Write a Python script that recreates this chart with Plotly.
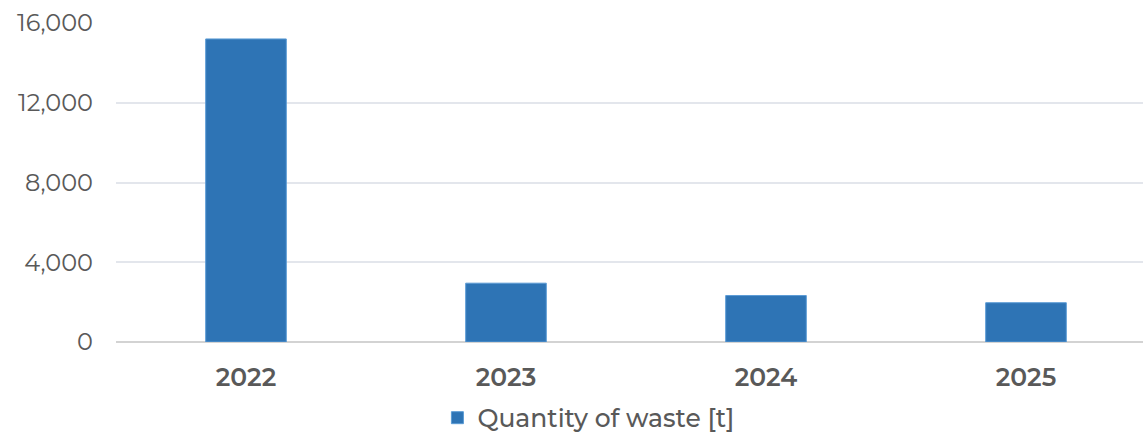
import plotly.graph_objects as go

years = ["2022", "2023", "2024", "2025"]
waste = [15200, 2950, 2330, 1970]
y_ticks = [0, 4000, 8000, 12000, 16000]
y_labels = ["0", "4,000", "8,000", "12,000", "16,000"]

fig = go.Figure()
fig.add_trace(go.Bar(
    x=years, y=waste, name="Quantity of waste [t]",
    marker=dict(color="#2E74B5", line=dict(color="#5B9BD5", width=1)),
    width=0.31,
))

fig.update_layout(
    width=1145, height=433,
    margin=dict(l=116, r=2, t=23, b=91, autoexpand=False),
    paper_bgcolor="white", plot_bgcolor="white",
    font=dict(family="Montserrat, 'Open Sans', Lato, sans-serif", color="#595959", size=24),
    showlegend=True,
    legend=dict(orientation="h", x=0.46, xanchor="center", y=-0.238, yanchor="middle",
                font=dict(size=25, color="#595959", weight=500), itemwidth=30,
                tracegroupgap=0),
    bargap=0.69,
)
fig.update_xaxes(type="category", range=[-0.5, 3.45], showline=False, showgrid=False,
                 ticks="", ticklabelstandoff=18,
                 tickfont=dict(size=25, color="#595959", weight=600))
fig.update_yaxes(range=[0, 16000], tickvals=y_ticks, ticktext=y_labels,
                 showgrid=True, gridcolor="#E3E6EC", gridwidth=1.5,
                 zeroline=True, zerolinecolor="#D3D3D3", zerolinewidth=2,
                 showline=False, ticks="", ticklabelstandoff=22,
                 tickfont=dict(size=24, color="#595959"))

fig.write_html("out.html")
